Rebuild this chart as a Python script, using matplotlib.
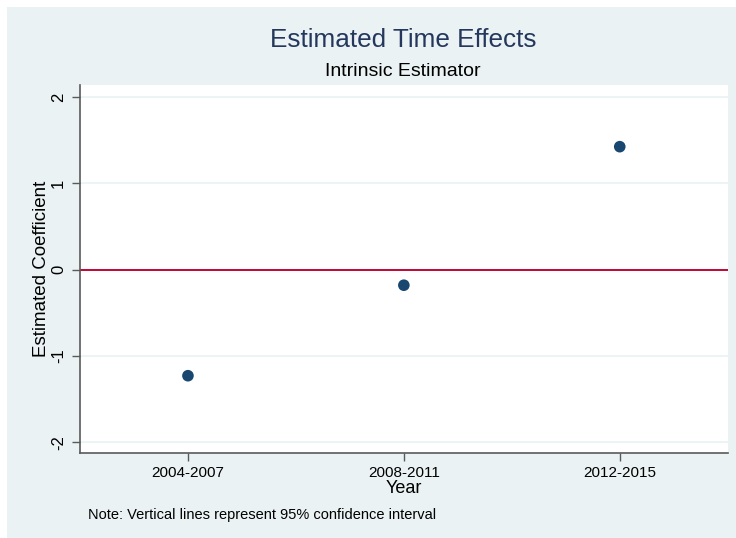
import matplotlib
matplotlib.use("Agg")
import matplotlib.pyplot as plt
from matplotlib.patches import Rectangle

periods = ["2004-2007", "2008-2011", "2012-2015"]
coefficients = [-1.23, -0.18, 1.427]
y_ticks = [-2, -1, 0, 1, 2]

plt.rcParams['font.family'] = ['Liberation Sans', 'DejaVu Sans']

W, H = 736, 538
fig = plt.figure(figsize=(W / 100, H / 100), dpi=100)
fig.patch.set_facecolor('white')
bg = Rectangle((7 / W, 0), 1 - 7 / W, 1 - 7 / H, transform=fig.transFigure,
               facecolor='#EAF2F3', edgecolor='none', zorder=-10)
fig.patches.append(bg)

left, right, top, bottom = 80, 727.7, 84.7, 453.3
ax = fig.add_axes([left / W, 1 - bottom / H, (right - left) / W, (bottom - top) / H])
ax.set_zorder(1)
ax.set_facecolor('white')

x = list(range(1, len(periods) + 1))
ax.set_xlim(0.5, 3.5)
ax.set_ylim(-2.13, 2.146)

for t in y_ticks:
    ax.axhline(t, color='#EAF2F3', lw=1.2, zorder=1)
ax.axhline(0, color='#C10534', lw=1.4, zorder=2)

ax.scatter(x, coefficients, s=70, color='#1A476F', zorder=3, edgecolors='none')

ax.set_xticks(x)
ax.set_xticklabels(periods, fontsize=11)
ax.set_yticks(y_ticks)
ax.set_yticklabels([str(t) for t in y_ticks], fontsize=12, rotation=90, va='center')

for s in ['top', 'right']:
    ax.spines[s].set_visible(False)
for s in ['left', 'bottom']:
    ax.spines[s].set_color('#5A5A5A')
    ax.spines[s].set_linewidth(1.2)
ax.tick_params(axis='both', direction='out', length=6, width=1, color='#5A5A5A', labelcolor='black')
ax.tick_params(axis='x', pad=3)
ax.tick_params(axis='y', pad=4)

ax.set_xlabel("Year", fontsize=13, labelpad=0)
ax.set_ylabel("Estimated Coefficient", fontsize=13.5, labelpad=1)

fig.text(403 / W, 1 - 40 / H, "Estimated Time Effects", fontsize=18.8, color='#24375C',
         ha='center', va='center')
fig.text(403 / W, 1 - 72 / H, "Intrinsic Estimator", fontsize=14, color='black',
         ha='center', va='center')
fig.text(88 / W, 1 - 515 / H, "Note: Vertical lines represent 95% confidence interval",
         fontsize=10.5, color='black', ha='left', va='center')

fig.savefig("out.png", dpi=100, facecolor=fig.get_facecolor())
